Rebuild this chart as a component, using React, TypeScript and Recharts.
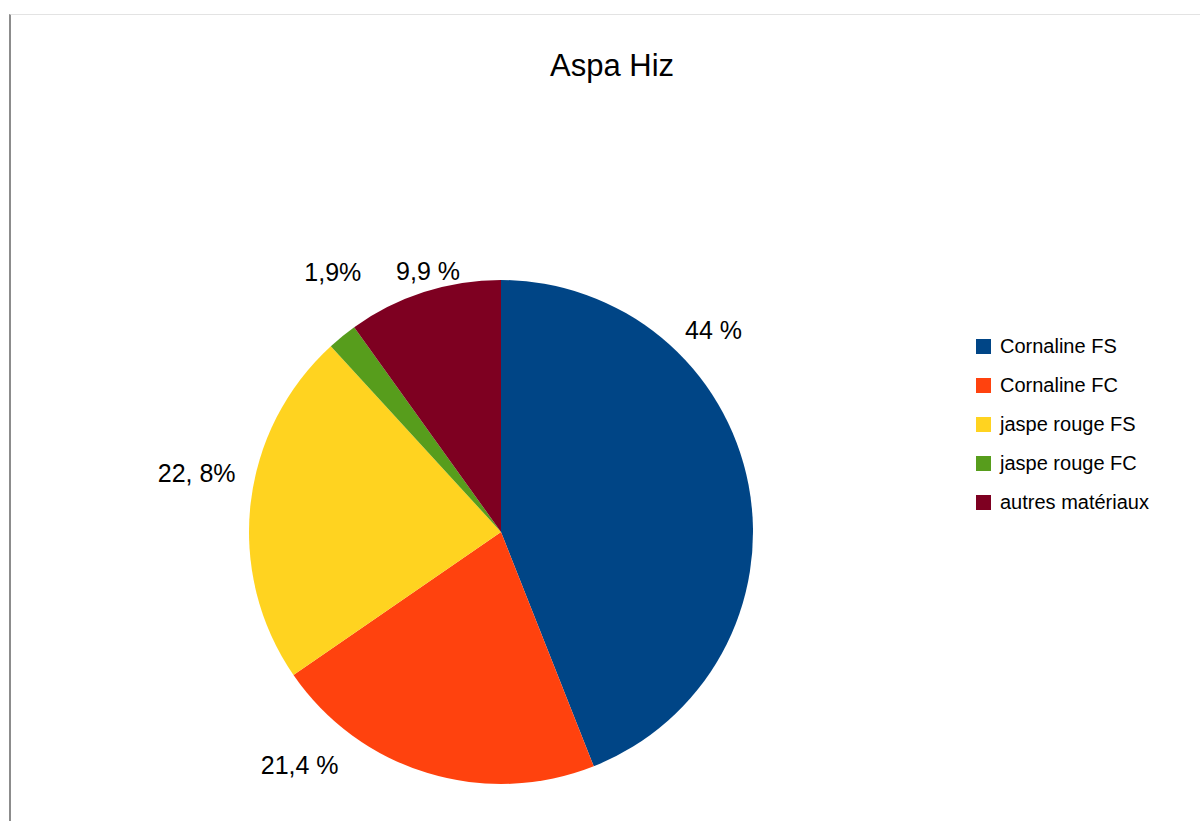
import { PieChart, Pie, Cell } from "recharts";

const materials = [
  "Cornaline FS",
  "Cornaline FC",
  "jaspe rouge FS",
  "jaspe rouge FC",
  "autres matériaux",
];
const shares = [44, 21.4, 22.8, 1.9, 9.9];
const labels = ["44 %", "21,4 %", "22, 8%", "1,9%", "9,9 %"];
const colors = ["#004586", "#ff420e", "#ffd320", "#579d1c", "#7e0021"];

// hand-placed labels: angle shift (deg) from slice middle, distance past the rim
const labelNudge: [number, number][] = [
  [32.7, 41],
  [-23.9, 56],
  [-4.5, 58],
  [-6.2, 58],
  [-2.2, 19],
];

const data = materials.map((name, i) => ({ name, value: shares[i] }));

const FONT = "'Liberation Sans', Arial, sans-serif";
const RAD = Math.PI / 180;

function renderLabel(props: any) {
  const { cx, cy, midAngle, outerRadius, index } = props;
  const [da, dr] = labelNudge[index];
  const a = (midAngle + da) * RAD;
  const r = outerRadius + dr;
  return (
    <text
      x={cx + r * Math.cos(a)}
      y={cy - r * Math.sin(a)}
      textAnchor="middle"
      dominantBaseline="central"
      fill="#000"
      fontSize={25}
      fontFamily={FONT}
    >
      {labels[index]}
    </text>
  );
}

function ChartLegend() {
  return (
    <div
      style={{
        position: "absolute",
        left: 976,
        top: 327,
        fontFamily: FONT,
        fontSize: 20,
        color: "#000",
      }}
    >
      {materials.map((name, i) => (
        <div
          key={name}
          style={{ height: 39, display: "flex", alignItems: "center" }}
        >
          <span
            style={{
              width: 15,
              height: 15,
              background: colors[i],
              marginRight: 9,
              display: "inline-block",
            }}
          />
          <span>{name}</span>
        </div>
      ))}
    </div>
  );
}

export default function App() {
  return (
    <div
      style={{
        position: "absolute",
        left: 0,
        top: 0,
        width: 1200,
        height: 821,
        background: "#fff",
        overflow: "hidden",
      }}
    >
      <div
        style={{
          position: "absolute",
          left: 9,
          top: 14,
          width: 1191,
          height: 807,
          borderLeft: "2px solid #8c8c8c",
          borderTop: "1px solid #e3e3e3",
        }}
      />
      <div
        style={{
          position: "absolute",
          left: 0,
          width: 1224,
          top: 48,
          textAlign: "center",
          fontFamily: FONT,
          fontSize: 31,
          color: "#000",
        }}
      >
        Aspa Hiz
      </div>
      <div style={{ position: "absolute", left: 0, top: 0 }}>
        <PieChart
          width={1200}
          height={821}
          margin={{ top: 0, right: 0, bottom: 0, left: 0 }}
        >
          <Pie
            data={data}
            dataKey="value"
            nameKey="name"
            cx={501}
            cy={532}
            outerRadius={252}
            startAngle={90}
            endAngle={-270}
            stroke="none"
            label={renderLabel}
            labelLine={false}
            isAnimationActive={false}
          >
            {data.map((d, i) => (
              <Cell key={d.name} fill={colors[i]} />
            ))}
          </Pie>
        </PieChart>
      </div>
      <ChartLegend />
    </div>
  );
}
